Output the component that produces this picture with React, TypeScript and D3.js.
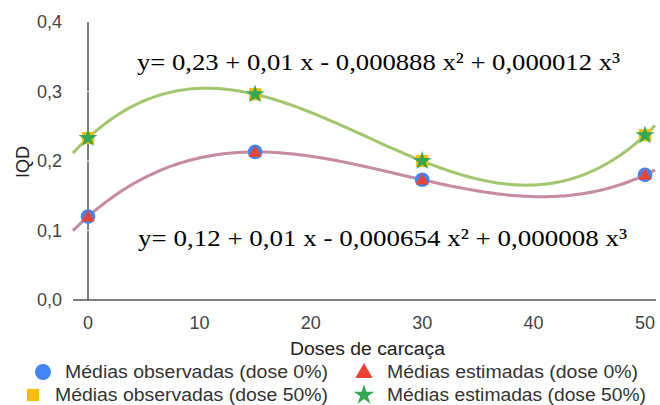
import React, { useEffect, useRef } from "react";
import * as d3 from "d3";

const doses = [0, 15, 30, 50];
const obs0 = [0.12, 0.213, 0.173, 0.18];
const est0 = [0.12, 0.213, 0.173, 0.18];
const obs50 = [0.233, 0.296, 0.2, 0.237];
const est50 = [0.233, 0.296, 0.2, 0.237];
const xTicks = [0, 10, 20, 30, 40, 50];
const yTicks = [0, 0.1, 0.2, 0.3, 0.4];
const eqTop = "y= 0,23 + 0,01 x - 0,000888 x² + 0,000012 x³";
const eqBottom = "y= 0,12 + 0,01 x - 0,000654 x² + 0,000008 x³";
const legendItems = [
  { label: "Médias observadas (dose 0%)", color: "#4285F4", shape: "circle" },
  { label: "Médias estimadas (dose 0%)", color: "#EA4335", shape: "triangle" },
  { label: "Médias observadas (dose 50%)", color: "#FBBC04", shape: "square" },
  { label: "Médias estimadas (dose 50%)", color: "#34A853", shape: "star" },
];

// cubic through the 4 points (polynomial trendline, degree 3)
function trend(xs: number[], ys: number[]) {
  return (x: number) => {
    let s = 0;
    for (let i = 0; i < xs.length; i++) {
      let t = ys[i];
      for (let j = 0; j < xs.length; j++) {
        if (j !== i) t *= (x - xs[j]) / (xs[i] - xs[j]);
      }
      s += t;
    }
    return s;
  };
}

export default function App() {
  const ref = useRef<SVGSVGElement>(null);

  useEffect(() => {
    const svg = d3.select(ref.current);
    svg.selectAll("*").remove();
    const sans = "'Liberation Sans', Arial, sans-serif";
    const serif = "'Liberation Serif', 'Times New Roman', serif";

    const x = d3.scaleLinear().domain([0, 50]).range([88, 645]);
    const y = d3.scaleLinear().domain([0, 0.4]).range([300, 22]);

    // axes
    svg.append("line").attr("x1", 73).attr("x2", 656).attr("y1", y(0)).attr("y2", y(0))
      .attr("stroke", "#555").attr("stroke-width", 1.5);
    svg.append("line").attr("x1", x(0)).attr("x2", x(0)).attr("y1", y(0.4)).attr("y2", y(0))
      .attr("stroke", "#555").attr("stroke-width", 1.5);
    // white gridlines cut through the axis
    svg.selectAll(".grid").data(yTicks.slice(1, 4)).enter().append("line")
      .attr("x1", x(0) - 2).attr("x2", x(0) + 2)
      .attr("y1", d => y(d)).attr("y2", d => y(d))
      .attr("stroke", "#fff").attr("stroke-width", 1);

    svg.selectAll(".yt").data(yTicks).enter().append("text")
      .attr("x", 62).attr("y", d => y(d) + 6).attr("text-anchor", "end")
      .attr("font-family", sans).attr("font-size", 18).attr("fill", "#444")
      .text(d => d3.format(".1f")(d).replace(".", ","));
    svg.selectAll(".xt").data(xTicks).enter().append("text")
      .attr("x", d => x(d)).attr("y", 329).attr("text-anchor", "middle")
      .attr("font-family", sans).attr("font-size", 18).attr("fill", "#444")
      .text(d => d);

    svg.append("text").attr("x", 290).attr("y", 355)
      .attr("textLength", 155).attr("lengthAdjust", "spacingAndGlyphs")
      .attr("font-family", sans).attr("font-size", 18).attr("fill", "#222").text("Doses de carcaça");
    svg.append("text").attr("transform", "translate(29,162) rotate(-90)").attr("text-anchor", "middle")
      .attr("font-family", sans).attr("font-size", 18).attr("fill", "#222").text("IQD");

    // trendlines
    const xs = d3.range(-1.35, 51.0, 0.25);
    const line = (f: (v: number) => number) =>
      d3.line<number>().x(d => x(d)).y(d => y(f(d)))(xs);
    const trends = [
      { ys: obs0, color: "#4285F4" },
      { ys: est0, color: "#EA4335" },
      { ys: obs50, color: "#FBBC04" },
      { ys: est50, color: "#34A853" },
    ];
    trends.forEach(t => {
      svg.append("path").attr("d", line(trend(doses, t.ys)))
        .attr("fill", "none").attr("stroke", t.color).attr("stroke-width", 3)
        .attr("stroke-opacity", 0.45);
    });

    const sym = (shape: string) => {
      if (shape === "circle") return d3.symbol(d3.symbolCircle, 170)();
      if (shape === "triangle") return d3.symbol(d3.symbolTriangle, 75)();
      if (shape === "square") return d3.symbol(d3.symbolSquare, 150)();
      return d3.symbol(d3.symbolStar, 110)();
    };

    const series = [
      { ys: obs0, item: legendItems[0] },
      { ys: est0, item: legendItems[1] },
      { ys: obs50, item: legendItems[2] },
      { ys: est50, item: legendItems[3] },
    ];
    series.forEach(s => {
      svg.selectAll(null).data(doses).enter().append("path")
        .attr("d", sym(s.item.shape))
        .attr("transform", (d, i) => `translate(${x(d)},${y(s.ys[i]) + (s.item.shape === "triangle" ? 1 : 0)})`)
        .attr("fill", s.item.color);
    });

    // equations
    svg.append("text").attr("x", 137).attr("y", 70)
      .attr("textLength", 483).attr("lengthAdjust", "spacingAndGlyphs")
      .attr("font-family", serif).attr("font-size", 24)
      .attr("fill", "#000").text(eqTop);
    svg.append("text").attr("x", 138).attr("y", 246)
      .attr("textLength", 489).attr("lengthAdjust", "spacingAndGlyphs")
      .attr("font-family", serif).attr("font-size", 24)
      .attr("fill", "#000").text(eqBottom);

    // legend
    const lg = [
      { mx: 43, tx: 65, w: 263, y: 372, item: legendItems[0] },
      { mx: 364, tx: 387, w: 251, y: 372, item: legendItems[1] },
      { mx: 33, tx: 55, w: 273, y: 395, item: legendItems[2] },
      { mx: 364, tx: 387, w: 259, y: 395, item: legendItems[3] },
    ];
    lg.forEach(l => {
      const size = l.item.shape === "circle" ? 200 : l.item.shape === "triangle" ? 130 : l.item.shape === "square" ? 150 : 130;
      const typ = l.item.shape === "circle" ? d3.symbolCircle : l.item.shape === "triangle" ? d3.symbolTriangle
        : l.item.shape === "square" ? d3.symbolSquare : d3.symbolStar;
      svg.append("path").attr("d", d3.symbol(typ, size)())
        .attr("transform", `translate(${l.mx},${l.y + (l.item.shape === "triangle" ? 1 : 0)})`)
        .attr("fill", l.item.color);
      svg.append("text").attr("x", l.tx).attr("y", l.y + 6)
        .attr("textLength", l.w).attr("lengthAdjust", "spacingAndGlyphs")
        .attr("font-family", sans).attr("font-size", 17.5).attr("fill", "#333").text(l.item.label);
    });
  }, []);

  return (
    <svg ref={ref} width={660} height={405}
      style={{ position: "absolute", left: 0, top: 0, background: "#fff" }} />
  );
}
